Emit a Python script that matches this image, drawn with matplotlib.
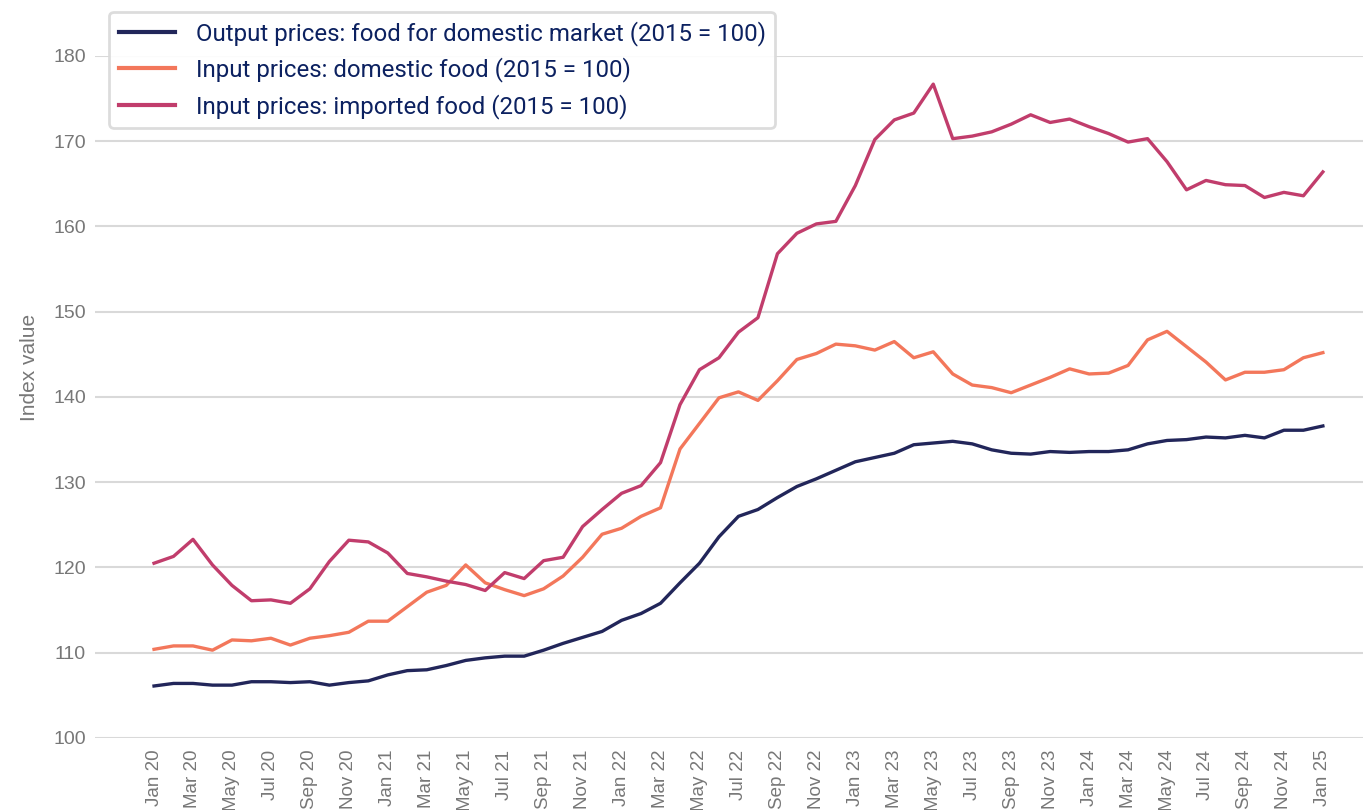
import pandas as pd
import matplotlib.pyplot as plt
import numpy as np

# monthly index values, Jan 2020 .. Jan 2025
months = pd.date_range('2020-01-01', '2025-01-01', freq='MS')
month_labels = [d.strftime('%b %y') for d in months]

output_food = [106.1, 106.4, 106.4, 106.2, 106.2, 106.6, 106.6, 106.5, 106.6, 106.2, 106.5, 106.7,
               107.4, 107.9, 108.0, 108.5, 109.1, 109.4, 109.6, 109.6, 110.3, 111.1, 111.8, 112.5,
               113.8, 114.6, 115.8, 118.2, 120.5, 123.6, 126.0, 126.8, 128.2, 129.5, 130.4, 131.4,
               132.4, 132.9, 133.4, 134.4, 134.6, 134.8, 134.5, 133.8, 133.4, 133.3, 133.6, 133.5,
               133.6, 133.6, 133.8, 134.5, 134.9, 135.0, 135.3, 135.2, 135.5, 135.2, 136.1, 136.1, 136.6]

input_domestic = [110.4, 110.8, 110.8, 110.3, 111.5, 111.4, 111.7, 110.9, 111.7, 112.0, 112.4, 113.7,
                  113.7, 115.4, 117.1, 117.9, 120.3, 118.2, 117.4, 116.7, 117.5, 119.0, 121.2, 123.9,
                  124.6, 126.0, 127.0, 133.9, 136.9, 139.9, 140.6, 139.6, 141.9, 144.4, 145.1, 146.2,
                  146.0, 145.5, 146.5, 144.6, 145.3, 142.7, 141.4, 141.1, 140.5, 141.4, 142.3, 143.3,
                  142.7, 142.8, 143.7, 146.7, 147.7, 145.9, 144.1, 142.0, 142.9, 142.9, 143.2, 144.6, 145.2]

input_imported = [120.5, 121.3, 123.3, 120.3, 117.9, 116.1, 116.2, 115.8, 117.5, 120.7, 123.2, 123.0,
                  121.7, 119.3, 118.9, 118.4, 118.0, 117.3, 119.4, 118.7, 120.8, 121.2, 124.8, 126.8,
                  128.7, 129.6, 132.3, 139.1, 143.2, 144.6, 147.6, 149.3, 156.8, 159.2, 160.3, 160.6,
                  164.8, 170.2, 172.5, 173.3, 176.7, 170.3, 170.6, 171.1, 172.0, 173.1, 172.2, 172.6,
                  171.7, 170.9, 169.9, 170.3, 167.6, 164.3, 165.4, 164.9, 164.8, 163.4, 164.0, 163.6, 166.4]

series_names = ['Output prices: food for domestic market (2015 = 100)',
                'Input prices: domestic food (2015 = 100)',
                'Input prices: imported food (2015 = 100)']
colors = ['#22265a', '#f3775b', '#c13d6c']

x = np.arange(len(months))

fig = plt.figure(figsize=(13.63, 8.10), dpi=100)
ax = fig.add_axes([0.0697, 0.0889, 0.9303, 0.842])

for vals, name, c in zip([output_food, input_domestic, input_imported], series_names, colors):
    ax.plot(x, vals, color=c, linewidth=2.4, label=name)

ax.set_xlim(-3.03, 62.06)
ax.set_ylim(100, 180)
ax.set_yticks(np.arange(100, 181, 10))
ax.set_xticks(x[::2])
ax.set_xticklabels(month_labels[::2], rotation=90, fontsize=13.5, color='#777777',
                   family='Liberation Sans')
for lab in ax.get_yticklabels():
    lab.set_family('Liberation Sans')
ax.tick_params(axis='y', labelsize=14, colors='#777777', length=0, pad=6.5)
ax.tick_params(axis='x', length=0, pad=8.5)
ax.grid(axis='y', color='#d9d9d9', linewidth=1.5)
ax.set_axisbelow(True)
for s in ax.spines.values():
    s.set_visible(False)
ax.set_ylabel('Index value', fontsize=15, color='#777777', family='Liberation Sans')
ax.yaxis.label.set_verticalalignment('center')
ax.yaxis.set_label_coords(-0.0513, 0.543)

leg = ax.legend(loc='upper left', bbox_to_anchor=(0.080, 0.9856), bbox_transform=fig.transFigure,
                prop={'family': 'Roboto', 'size': 17.3}, handlelength=2.35, handletextpad=0.85,
                labelspacing=0.47, borderpad=0.4, borderaxespad=0, frameon=True, fancybox=True,
                framealpha=0.9)
leg.get_frame().set_edgecolor('#d9d9d9')
leg.get_frame().set_linewidth(2)
for t in leg.get_texts():
    t.set_color('#0c2160')
for h in leg.get_lines():
    h.set_linewidth(3)

plt.savefig('out.png', dpi=100)
